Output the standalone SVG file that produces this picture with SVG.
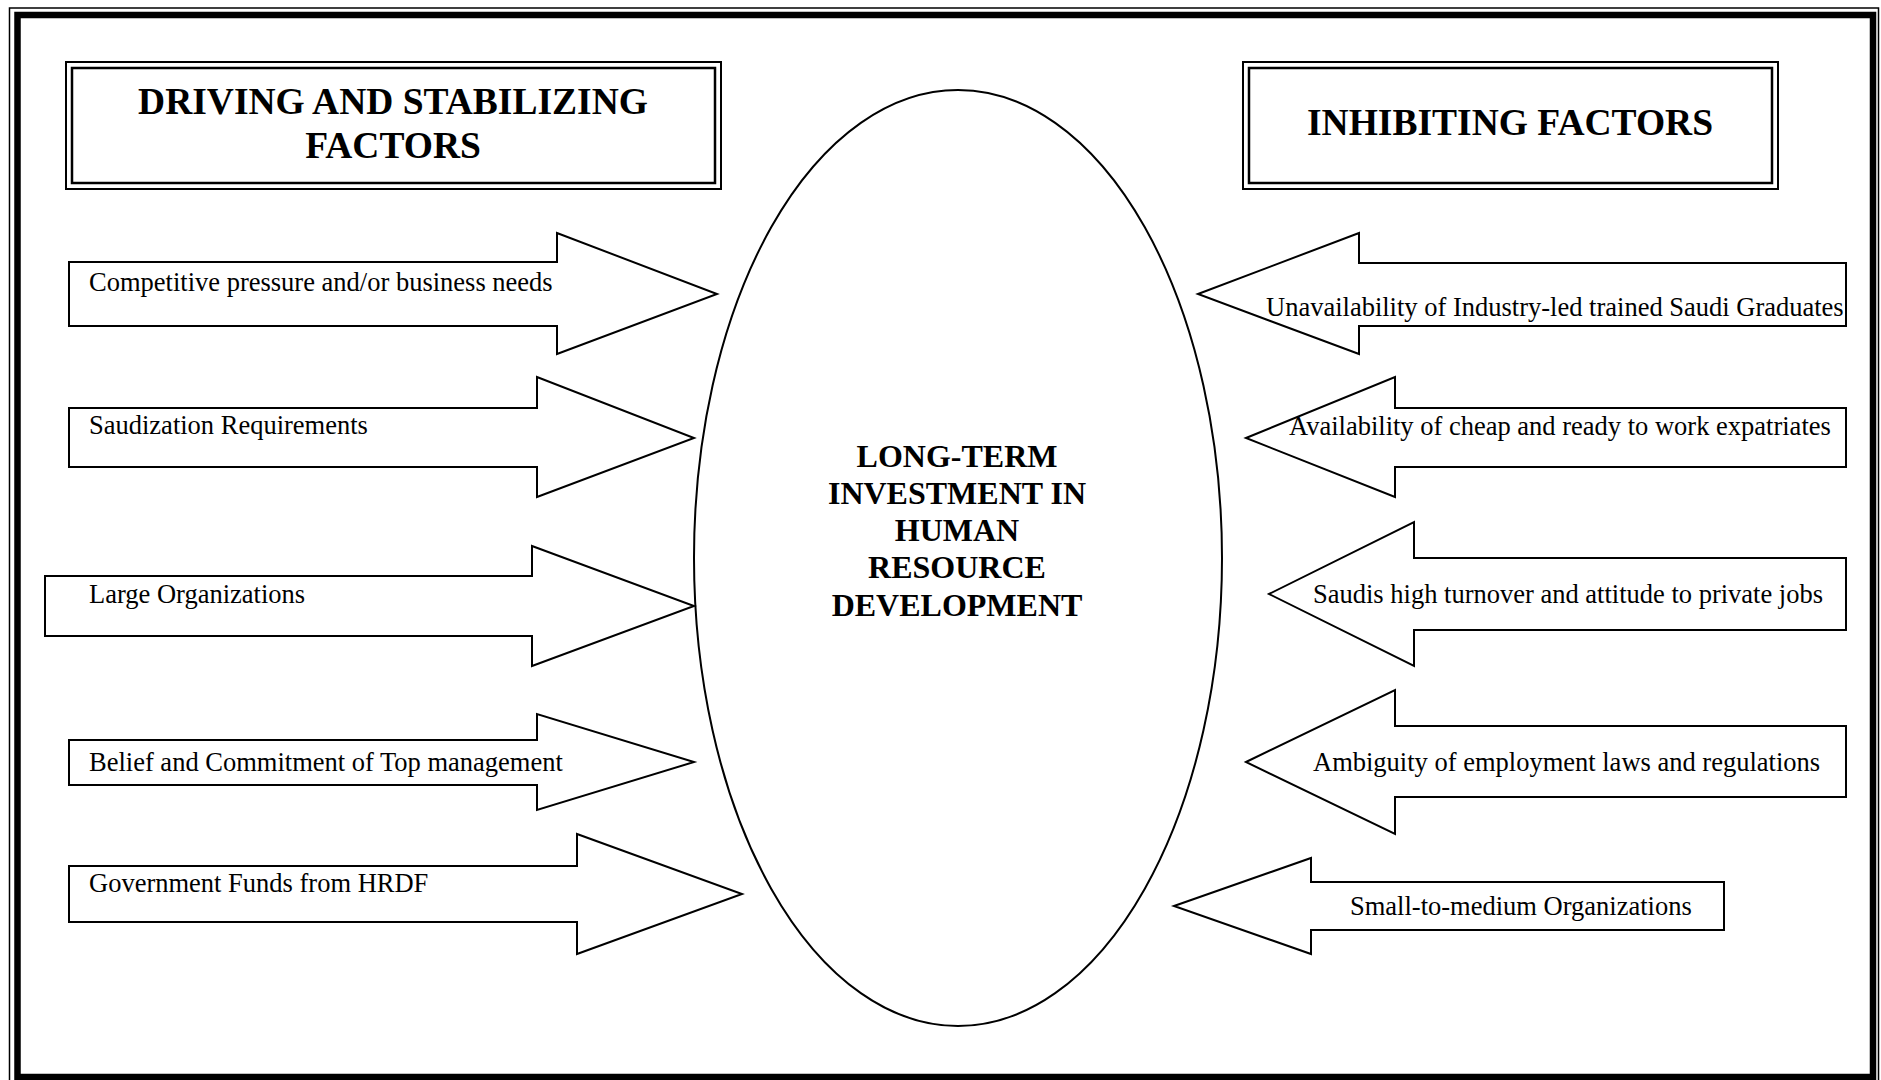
<svg xmlns="http://www.w3.org/2000/svg" width="1881" height="1080" viewBox="0 0 1881 1080">
<style>
.arr{fill:#fff;stroke:#000;stroke-width:2;stroke-linejoin:miter}
.lbl{font-family:"Liberation Serif","Times New Roman",serif;font-size:26.5px;fill:#000}
.hdr{font-family:"Liberation Serif","Times New Roman",serif;font-size:37.5px;font-weight:bold;fill:#000;text-anchor:middle}
.ctr{font-family:"Liberation Serif","Times New Roman",serif;font-size:32px;font-weight:bold;fill:#000;text-anchor:middle}
.box{fill:none;stroke:#000}
</style>
<rect x="0" y="0" width="1881" height="1080" fill="#fff"/>
<g id="frame">
<rect x="9.5" y="8" width="1869" height="1090" fill="none" stroke="#000" stroke-width="1.5"/>
<rect x="17.5" y="15" width="1855.5" height="1062" fill="none" stroke="#000" stroke-width="6.5"/>
</g>
<g id="header-driving">
<rect class="box" x="66" y="62" width="655" height="127" stroke-width="2"/>
<rect class="box" x="72" y="68" width="643" height="115" stroke-width="2.5"/>
<text class="hdr" x="393" y="114">DRIVING AND STABILIZING</text>
<text class="hdr" x="393" y="158">FACTORS</text>
</g>
<g id="header-inhibiting">
<rect class="box" x="1243" y="62" width="535" height="127" stroke-width="2"/>
<rect class="box" x="1249" y="68" width="523" height="115" stroke-width="2.5"/>
<text class="hdr" x="1510" y="135">INHIBITING FACTORS</text>
</g>
<g id="center">
<ellipse cx="958" cy="558" rx="264" ry="468" fill="#fff" stroke="#000" stroke-width="2"/>
<text class="ctr" x="957" y="467">LONG-TERM</text>
<text class="ctr" x="957" y="504">INVESTMENT IN</text>
<text class="ctr" x="957" y="541">HUMAN</text>
<text class="ctr" x="957" y="578">RESOURCE</text>
<text class="ctr" x="957" y="616">DEVELOPMENT</text>
</g>
<g id="connectors">
<g id="drive-1"><polygon class="arr" points="69,262 557,262 557,233 717,294 557,354 557,326 69,326"/><text class="lbl" x="89" y="291">Competitive pressure and/or business needs</text></g>
<g id="drive-2"><polygon class="arr" points="69,408 537,408 537,377 694,438 537,497 537,467 69,467"/><text class="lbl" x="89" y="434">Saudization Requirements</text></g>
<g id="drive-3"><polygon class="arr" points="45,576 532,576 532,546 694,606 532,666 532,636 45,636"/><text class="lbl" x="89" y="603">Large Organizations</text></g>
<g id="drive-4"><polygon class="arr" points="69,740 537,740 537,714 694,762 537,810 537,785 69,785"/><text class="lbl" x="89" y="771">Belief and Commitment of Top management</text></g>
<g id="drive-5"><polygon class="arr" points="69,866 577,866 577,834 742,894 577,954 577,922 69,922"/><text class="lbl" x="89" y="892">Government Funds from HRDF</text></g>
<g id="inhibit-1"><polygon class="arr" points="1198,294 1359,233 1359,263 1846,263 1846,326 1359,326 1359,354"/><text class="lbl" x="1266" y="316">Unavailability of Industry-led trained Saudi Graduates</text></g>
<g id="inhibit-2"><polygon class="arr" points="1246,438 1395,377 1395,408 1846,408 1846,467 1395,467 1395,497"/><text class="lbl" x="1289" y="435">Availability of cheap and ready to work expatriates</text></g>
<g id="inhibit-3"><polygon class="arr" points="1269,594 1414,522 1414,558 1846,558 1846,630 1414,630 1414,666"/><text class="lbl" x="1313" y="603">Saudis high turnover and attitude to private jobs</text></g>
<g id="inhibit-4"><polygon class="arr" points="1246,762 1395,690 1395,726 1846,726 1846,797 1395,797 1395,834"/><text class="lbl" x="1313" y="771">Ambiguity of employment laws and regulations</text></g>
<g id="inhibit-5"><polygon class="arr" points="1174,906 1311,858 1311,882 1724,882 1724,930 1311,930 1311,954"/><text class="lbl" x="1350" y="915">Small-to-medium Organizations</text></g>
</g>
</svg>
